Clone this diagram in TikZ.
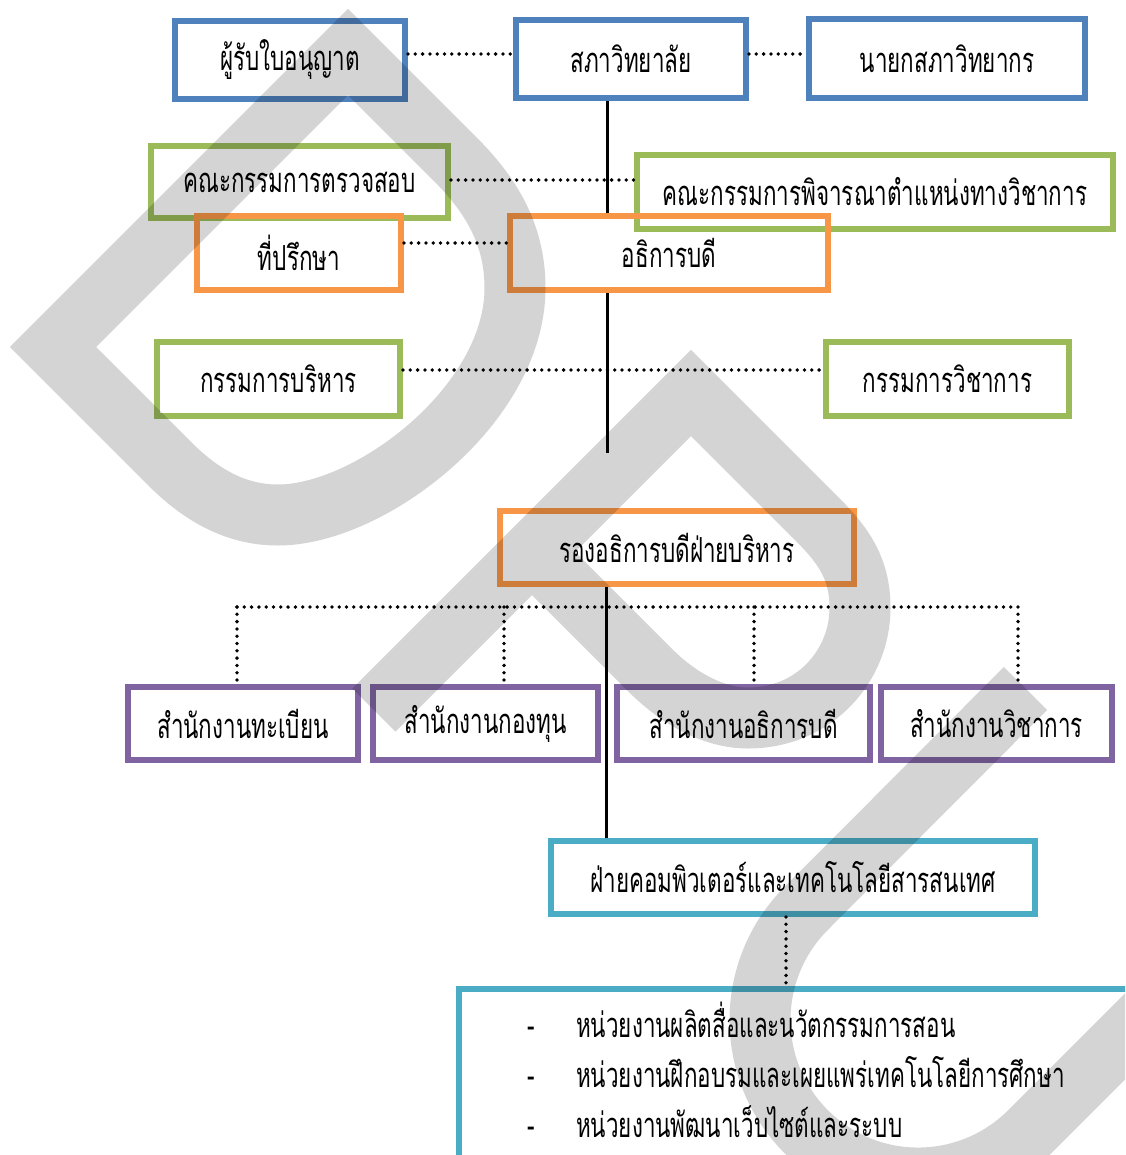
\documentclass[tikz,border=0pt]{standalone}
\usepackage{fontspec}
\newfontfamily\thaifont[Script=Thai,FakeStretch=0.65]{Loma}
\definecolor{cblue}{RGB}{79,129,189}
\definecolor{cgreen}{RGB}{155,187,89}
\definecolor{corange}{RGB}{247,150,70}
\definecolor{cpurple}{RGB}{128,100,162}
\definecolor{cteal}{RGB}{75,172,198}
\begin{document}
\begin{tikzpicture}[x=1pt,y=-1pt,
  thtext/.style={font=\thaifont\fontsize{34.5}{36}\selectfont, text=black},
  box/.style={draw, line width=6pt, inner sep=0pt, align=center, thtext},
  solidline/.style={line width=3pt, black},
  dotline/.style={line width=3.8pt, black, line cap=round, dash pattern=on 0pt off 7.3pt},
  wm/.style={line width=61pt, draw=black, draw opacity=0.17, line join=miter, line cap=butt}]
\useasboundingbox (0,0) rectangle (1125,1155);
\clip (0,0) rectangle (1125,1155);
% level coordinates
\coordinate (r1) at (0,54);
\coordinate (r2) at (0,180);
\coordinate (r3) at (0,243);
\coordinate (r4) at (0,370);
\coordinate (r5) at (0,607);
\coordinate (vx) at (607,0);
\coordinate (vx2) at (606,0);
\coordinate (stub) at (607,453);
\coordinate (bl) at (237,607);
\coordinate (br) at (1018,607);
\coordinate (c2) at (504,0);
\coordinate (c3) at (754,0);
\coordinate (dx) at (786,0);
% boxes
\node[box, draw=cblue, minimum width=230pt, minimum height=78pt] (lic) at (290,60) {ผู้รับใบอนุญาต};
\node[box, draw=cblue, minimum width=230pt, minimum height=78pt] (council) at (631,59) {สภาวิทยาลัย};
\node[box, draw=cblue, minimum width=276pt, minimum height=79pt] (chair) at (947,58.5) {นายกสภาวิทยากร};
\node[box, draw=cgreen, minimum width=297pt, minimum height=72pt] (audit) at (299.5,182) {คณะกรรมการตรวจสอบ};
\node[box, draw=cgreen, minimum width=476pt, minimum height=74pt] (acad) at (875,192) {คณะกรรมการพิจารณาตำแหน่งทางวิชาการ};
\node[box, draw=corange, minimum width=204pt, minimum height=74pt] (advisor) at (299,253) {ที่ปรึกษา};
\node[box, draw=corange, minimum width=318pt, minimum height=74pt] (president) at (669,253) {อธิการบดี};
\node[box, draw=cgreen, minimum width=243pt, minimum height=74pt] (exec) at (278.5,379) {กรรมการบริหาร};
\node[box, draw=cgreen, minimum width=243pt, minimum height=74pt] (acadcom) at (947.5,379) {กรรมการวิชาการ};
\node[box, draw=corange, minimum width=354pt, minimum height=73pt] (vp) at (677,547.5) {รองอธิการบดีฝ่ายบริหาร};
\node[box, draw=cpurple, minimum width=230pt, minimum height=73pt] (reg) at (243,723.5) {สำนักงานทะเบียน};
\node[box, draw=cpurple, minimum width=225pt, minimum height=73pt] (fund) at (485.5,723.5) {สำนักงานกองทุน};
\node[box, draw=cpurple, minimum width=253pt, minimum height=73pt] (office) at (743.5,723.5) {สำนักงานอธิการบดี};
\node[box, draw=cpurple, minimum width=231pt, minimum height=73pt] (acadoff) at (996.5,723.5) {สำนักงานวิชาการ};
\node[box, draw=cteal, minimum width=484pt, minimum height=73pt] (it) at (793,877.5) {ฝ่ายคอมพิวเตอร์และเทคโนโลยีสารสนเทศ};
\node[box, draw=cteal, minimum width=800pt, minimum height=300pt, anchor=north west] (units) at (456,986) {};
\node[thtext, anchor=base] (d1) at (531,1037) {-};
\node[thtext, anchor=base] (d2) at (531,1087) {-};
\node[thtext, anchor=base] (d3) at (531,1137) {-};
\node[thtext, anchor=base west, inner sep=0pt] (u1) at (576,1037) {หน่วยงานผลิตสื่อและนวัตกรรมการสอน};
\node[thtext, anchor=base west, inner sep=0pt] (u2) at (576,1087) {หน่วยงานฝึกอบรมและเผยแพร่เทคโนโลยีการศึกษา};
\node[thtext, anchor=base west, inner sep=0pt] (u3) at (576,1137) {หน่วยงานพัฒนาเว็บไซต์และระบบ};
% solid lines
\draw[solidline] (council.south -| vx) -- (president.north -| vx);
\draw[solidline] (president.south -| vx) -- (stub);
\draw[solidline] (vp.south -| vx2) -- (it.north -| vx2);
% dotted lines
\draw[dotline] (lic.east |- r1) -- (council.west |- r1);
\draw[dotline] (council.east |- r1) -- (chair.west |- r1);
\draw[dotline] (audit.east |- r2) -- (acad.west |- r2);
\draw[dotline] (advisor.east |- r3) -- (president.west |- r3);
\draw[dotline] (exec.east |- r4) -- (acadcom.west |- r4);
\draw[dotline] (bl) -- (br);
\draw[dotline] (bl) -- (reg.north -| bl);
\draw[dotline] (c2 |- r5) -- (fund.north -| c2);
\draw[dotline] (c3 |- r5) -- (office.north -| c3);
\draw[dotline] (br) -- (acadoff.north -| br);
\draw[dotline] (it.south -| dx) -- (units.north -| dx);
% watermark
\draw[wm]
  (348,52) -- (53,347) -- (170,464) .. controls (205,499) and (240,515) .. (278,515)
    .. controls (370,515) and (515,405) .. (515,288) .. controls (515,240) and (496,200) .. (456,160) -- cycle
  (691,393) -- (532,552) -- (650,670) .. controls (680,700) and (715,718) .. (748,718)
    .. controls (815,718) and (860,665) .. (860,608) .. controls (860,570) and (845,547) .. (818,520) -- cycle
  (374,710) -- (691,393)
  (1025.5,688.5) -- (806.3,908.3) arc[start angle=225, end angle=45, radius=158] -- ++(200,-200);
\end{tikzpicture}
\end{document}
